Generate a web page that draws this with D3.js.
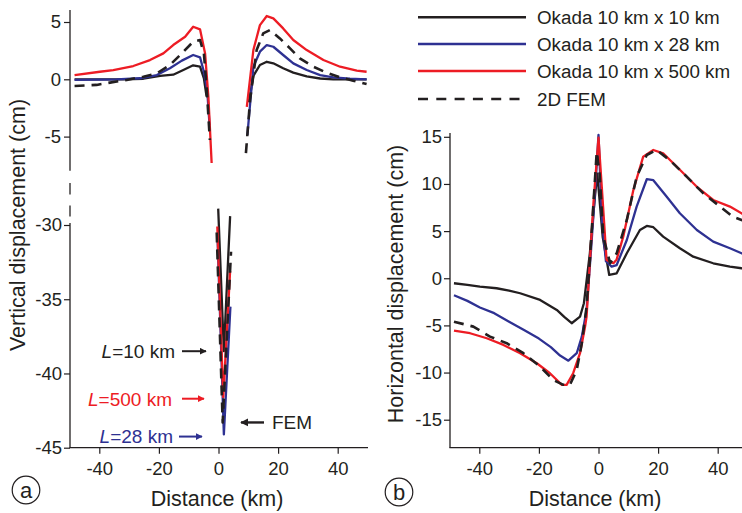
<!DOCTYPE html>
<html>
<head>
<meta charset="utf-8">
<script src="https://cdn.jsdelivr.net/npm/d3@7"></script>
<style>
  html, body { margin: 0; padding: 0; background: #fff; }
  svg { display: block; font-family: "Liberation Sans", Arial, sans-serif; }
  .tick text { fill: #231f20; }
</style>
</head>
<body>
<svg id="chart" width="742" height="513"></svg>
<script>
// ---- Data -------------------------------------------------------------
// Panel (a): vertical displacement (cm) vs distance (km); null breaks the
// curve into the western flank, the trough near the fault and the eastern flank.
const vertOkada10 = [
  [-48.3, 0.0], [-40, 0.0], [-32, 0.0], [-25.2, 0.05], [-19.6, 0.29], [-15.2, 0.4],
  [-11.8, 0.81], [-8.5, 1.22], [-6.2, 1.10], [-4.9, 0.09], [-4.0, -1.5],
  null,
  [-0.1, -28.9], [1.8, -38.5], [3.9, -29.4],
  null,
  [10.2, -2.0], [11.7, 0.3], [13.9, 1.25], [16.2, 1.53], [18.4, 1.40], [21.7, 0.96],
  [25.1, 0.58], [29.6, 0.25], [34.1, 0.07], [38.5, 0.0], [44.1, 0.0], [49.7, 0.0]
];
const vertOkada28 = [
  [-48.3, -0.05], [-40, -0.03], [-34.2, 0.0], [-26.3, 0.09], [-20.7, 0.37], [-16.3, 0.96],
  [-12.3, 1.63], [-8.5, 2.12], [-6.2, 1.92], [-4.9, 0.66], [-3.8, -0.93], [-3.0, -4.0],
  null,
  [-0.3, -31.0], [1.8, -44.1], [4.0, -35.5],
  null,
  [9.7, -4.86], [11.7, 1.10], [13.9, 2.41], [16.2, 2.99], [18.4, 2.84], [21.7, 2.12],
  [25.1, 1.39], [29.6, 0.81], [34.1, 0.37], [38.5, 0.17], [44.1, 0.05], [49.7, 0.0]
];
const vertOkada500 = [
  [-48.3, 0.37], [-39.8, 0.66], [-35.3, 0.81], [-28.6, 1.16], [-23, 1.68], [-18.5, 2.26],
  [-15.2, 2.99], [-11.2, 3.71], [-8.5, 4.59], [-6.2, 4.36], [-4.5, 2.26], [-3.4, -1.5], [-2.3, -7.3],
  null,
  [-0.4, -30.1], [1.6, -41.6], [3.9, -33.1],
  null,
  [9.5, -2.4], [11.7, 2.55], [13.9, 4.73], [16.2, 5.52], [18.4, 5.32], [21.7, 4.44],
  [25.1, 3.43], [29.6, 2.55], [35.2, 1.68], [40.8, 1.10], [46.4, 0.75], [49.7, 0.66]
];
const vertFem = [
  [-48.3, -0.58], [-40.9, -0.49], [-36.4, -0.29], [-30.8, -0.06], [-25.2, 0.23], [-20.7, 0.52],
  [-16.3, 1.25], [-12.3, 2.26], [-8.5, 3.28], [-6.2, 3.43], [-4.9, 2.26], [-4.0, -0.64], [-2.9, -5.3],
  null,
  [-0.6, -30.5], [1.4, -43.3], [4.2, -31.8],
  null,
  [9.2, -6.45], [10.6, -1.8], [12.8, 2.55], [15.0, 4.0], [17.3, 4.3], [20.6, 3.57],
  [24.0, 2.70], [27.3, 1.83], [31.8, 1.10], [36.3, 0.58], [40.8, 0.17], [45.2, -0.12], [49.7, -0.41]
];

// Panel (b): horizontal displacement (cm) vs distance (km)
const horizOkada10 = [
  [-48.5, -0.53], [-44, -0.7], [-39.8, -0.89], [-34.2, -1.06], [-30, -1.3], [-26.3, -1.59],
  [-19.6, -2.30], [-14.0, -3.36], [-11.5, -4.1], [-9.0, -4.77], [-6.2, -4.07], [-4.9, -2.65],
  [-2.9, 2.65], [-1.2, 8.65], [-0.4, 11.1], [1.4, 4.4], [3.6, 0.35], [6.1, 0.53], [9.5, 2.65],
  [13.9, 5.12], [16.2, 5.55], [18.4, 5.41], [21.7, 4.41], [27.3, 3.18], [31.8, 2.29],
  [38.5, 1.59], [44.1, 1.23], [48, 1.06], [50, 0.95]
];
const horizOkada28 = [
  [-48.5, -1.8], [-44, -2.4], [-39.8, -3.1], [-35, -3.7], [-30, -4.6], [-25, -5.5], [-20, -6.4],
  [-16, -7.3], [-12.9, -8.2], [-10.1, -8.74], [-7.3, -7.95], [-5.6, -6.19], [-4.0, -3.36],
  [-2.5, 3.0], [-1.0, 10.0], [0, 15.2], [1.2, 6.0], [2.5, 1.8], [4.4, 1.23], [6.1, 1.4],
  [9.5, 4.06], [12.8, 7.6], [16.2, 10.5], [18.4, 10.4], [22.9, 8.65], [27.3, 6.89], [33, 5.12],
  [38.5, 3.88], [44.1, 3.18], [48, 2.65], [50, 2.4]
];
const horizOkada500 = [
  [-48.5, -5.55], [-43.1, -5.83], [-37.5, -6.36], [-31.9, -7.07], [-26.3, -7.95], [-20.7, -9.01],
  [-16.3, -10.07], [-12.3, -11.3], [-10.7, -11.3], [-8.5, -10.07], [-6.2, -7.95], [-4.5, -5.13],
  [-4.0, -4.07], [-1.7, 7.95], [0, 14.9], [1.1, 9.7], [2.7, 1.94], [5.0, 1.6], [6.1, 2.0],
  [8.3, 4.41], [11.7, 9.36], [15, 12.9], [18.4, 13.6], [21.7, 13.25], [27.3, 11.5], [33, 9.7],
  [38.5, 8.3], [44.1, 7.6], [48, 6.89], [50, 6.5]
];
const horizFem = [
  [-48.5, -4.6], [-42, -5.13], [-36.4, -6.19], [-30.8, -6.89], [-25.2, -7.95], [-19.6, -9.37],
  [-15.2, -10.78], [-11.8, -11.3], [-9.6, -11.3], [-7.3, -9.72], [-5.6, -6.89], [-4.0, -3.0],
  [-2.9, 1.94], [-0.6, 13.4], [0.4, 11.0], [1.6, 4.4], [3.9, 1.6], [6.1, 2.65], [9.5, 6.18],
  [12.8, 10.77], [16.2, 13.07], [19.5, 13.6], [24, 12.5], [29.6, 10.77], [35.2, 9.0],
  [40.8, 7.6], [45.2, 6.5], [48, 6.18], [50, 5.9]
];

const seriesNames = ["Okada 10 km x 10 km", "Okada 10 km x 28 km", "Okada 10 km x 500 km", "2D FEM"];
const seriesColors = ["#231f20", "#2e3192", "#ed1c24", "#231f20"];
const seriesDashed = [false, false, false, true];

const xTicks = [-40, -20, 0, 20, 40];
const vertTicksUpper = [-5, 0, 5];
const vertTicksLower = [-45, -40, -35, -30];
const horizTicks = [-15, -10, -5, 0, 5, 10, 15];

// ---- Layout -----------------------------------------------------------
const svg = d3.select("#chart");
const ink = "#231f20";
const axisBottomY = 447.7;
const tickFont = 18.5;
const titleFont = 21.5;

const xA = d3.scaleLinear().domain([-50, 50]).range([69.5, 367.5]);
const yAUpper = d3.scaleLinear().domain([0, 5]).range([79.3, 22]);
const yALower = d3.scaleLinear().domain([-30, -45]).range([225, axisBottomY]);
const yA = v => (v > -15 ? yAUpper(v) : yALower(v));

const xB = d3.scaleLinear().domain([-50, 50]).range([449.5, 747.5]);
const yB = d3.scaleLinear().domain([-18, 15]).range([448, 136.8]);

const fmt = d => String(d);

function styleAxis(g) {
  g.select(".domain").remove();
  g.selectAll(".tick line").attr("stroke", ink).attr("stroke-width", 1.2);
  g.selectAll(".tick text").attr("font-size", tickFont).attr("fill", ink);
}

// Panel (a) axes
const gA = svg.append("g");
gA.append("g").attr("transform", `translate(0,${axisBottomY})`)
  .call(d3.axisBottom(xA).tickValues(xTicks).tickFormat(fmt).tickSize(6).tickPadding(8))
  .call(styleAxis);
gA.append("g").attr("transform", `translate(${xA(-50) + 0.5},0)`)
  .call(d3.axisLeft(yAUpper).tickValues(vertTicksUpper).tickFormat(fmt).tickSize(6).tickPadding(3))
  .call(styleAxis);
gA.append("g").attr("transform", `translate(${xA(-50) + 0.5},0)`)
  .call(d3.axisLeft(yALower).tickValues(vertTicksLower).tickFormat(fmt).tickSize(6).tickPadding(2))
  .call(styleAxis);

const axisX0 = xA(-50) + 0.5;
const axisLine = (g, x1, y1, x2, y2) => g.append("line")
  .attr("x1", x1).attr("y1", y1).attr("x2", x2).attr("y2", y2)
  .attr("stroke", ink).attr("stroke-width", 1.3);
axisLine(gA, axisX0, 10, axisX0, 170.7);
axisLine(gA, axisX0, 183, axisX0, 194.5);
axisLine(gA, axisX0, 205.5, axisX0, 216.5);
axisLine(gA, axisX0, 223, axisX0, axisBottomY);
axisLine(gA, axisX0 - 0.6, axisBottomY, xA(50) + 0.5, axisBottomY);

// Panel (b) axes
const gB = svg.append("g");
const axisXB = xB(-50) + 0.5;
gB.append("g").attr("transform", `translate(0,${axisBottomY})`)
  .call(d3.axisBottom(xB).tickValues(xTicks).tickFormat(fmt).tickSize(6).tickPadding(8))
  .call(styleAxis);
gB.append("g").attr("transform", `translate(${axisXB},0)`)
  .call(d3.axisLeft(yB).tickValues(horizTicks).tickFormat(fmt).tickSize(6).tickPadding(2))
  .call(styleAxis);
axisLine(gB, axisXB, 133, axisXB, axisBottomY);
axisLine(gB, axisXB - 0.6, axisBottomY, 742, axisBottomY);

// ---- Curves -----------------------------------------------------------
const defs = svg.append("defs");
defs.append("clipPath").attr("id", "clipA")
  .append("rect").attr("x", axisX0 + 1).attr("y", 0).attr("width", 300).attr("height", axisBottomY - 1);
defs.append("clipPath").attr("id", "clipB")
  .append("rect").attr("x", axisXB + 1).attr("y", 0).attr("width", 300).attr("height", axisBottomY - 1);

const lineA = d3.line().defined(d => d !== null).x(d => xA(d[0])).y(d => yA(d[1]));
const lineB = d3.line().defined(d => d !== null).x(d => xB(d[0])).y(d => yB(d[1]));

function drawSeries(g, gen, data, i) {
  g.append("path")
    .attr("d", gen(data))
    .attr("fill", "none")
    .attr("stroke", seriesColors[i])
    .attr("stroke-width", seriesDashed[i] ? 2.6 : 2.3)
    .attr("stroke-linejoin", "round")
    .attr("stroke-dasharray", seriesDashed[i] ? "10,7" : null);
}

const curvesA = svg.append("g").attr("clip-path", "url(#clipA)");
[vertOkada10, vertOkada28, vertOkada500, vertFem].forEach((d, i) => drawSeries(curvesA, lineA, d, i));
const curvesB = svg.append("g").attr("clip-path", "url(#clipB)");
[horizOkada10, horizOkada28, horizOkada500, horizFem].forEach((d, i) => drawSeries(curvesB, lineB, d, i));

// ---- Axis titles ------------------------------------------------------
svg.append("text").attr("x", 217).attr("y", 506).attr("text-anchor", "middle")
  .attr("font-size", titleFont).attr("fill", ink).text("Distance (km)");
svg.append("text").attr("x", 595).attr("y", 506).attr("text-anchor", "middle")
  .attr("font-size", titleFont).attr("fill", ink).text("Distance (km)");
svg.append("text").attr("transform", "translate(24.5,225) rotate(-90)").attr("text-anchor", "middle")
  .attr("font-size", titleFont).attr("fill", ink).text("Vertical displacement (cm)");
svg.append("text").attr("transform", "translate(402.5,284) rotate(-90)").attr("text-anchor", "middle")
  .attr("font-size", titleFont).attr("fill", ink).text("Horizontal displacement (cm)");

// Panel letters
[["a", 26, 490], ["b", 399, 492]].forEach(([t, cx, cy]) => {
  svg.append("circle").attr("cx", cx).attr("cy", cy).attr("r", 13.8)
    .attr("fill", "none").attr("stroke", ink).attr("stroke-width", 1.2);
  svg.append("text").attr("x", cx).attr("y", cy + 7.5).attr("text-anchor", "middle")
    .attr("font-size", 22).attr("fill", ink).text(t);
});

// ---- Legend -----------------------------------------------------------
const legend = svg.append("g");
const legendRows = [17.3, 44, 71, 99];
seriesNames.forEach((name, i) => {
  legend.append("line")
    .attr("x1", 418).attr("x2", 526).attr("y1", legendRows[i]).attr("y2", legendRows[i])
    .attr("stroke", seriesColors[i]).attr("stroke-width", 2.6)
    .attr("stroke-dasharray", seriesDashed[i] ? "10,8.3" : null);
  legend.append("text").attr("x", 537).attr("y", legendRows[i] + 6.7)
    .attr("font-size", 18.8).attr("fill", ink).text(name);
});

// ---- Trough annotations (panel a) --------------------------------------
const arrowDefs = (id, color) => defs.append("marker")
  .attr("id", id).attr("viewBox", "0 0 10 10").attr("refX", 9).attr("refY", 5)
  .attr("markerWidth", 3.4).attr("markerHeight", 3.4).attr("orient", "auto")
  .append("path").attr("d", "M0,0 L10,5 L0,10 Z").attr("fill", color);
arrowDefs("arrBlack", ink);
arrowDefs("arrRed", "#ed1c24");
arrowDefs("arrBlue", "#2e3192");

const noteFont = 19;
function label(textX, y, value, color, arrowFrom, arrowTo, marker) {
  const t = svg.append("text").attr("x", textX).attr("y", y + 6.8).attr("text-anchor", "end")
    .attr("font-size", noteFont).attr("fill", color);
  t.append("tspan").attr("font-style", "italic").text("L");
  t.append("tspan").text("=" + value + " km");
  svg.append("line").attr("x1", arrowFrom).attr("x2", arrowTo).attr("y1", y).attr("y2", y)
    .attr("stroke", color).attr("stroke-width", 2).attr("marker-end", `url(#${marker})`);
}
label(175, yALower(-38.5), 10, ink, 182, 206, "arrBlack");
label(172, yALower(-41.7), 500, "#ed1c24", 182, 204, "arrRed");
label(173, yALower(-44.25), 28, "#2e3192", 179, 202, "arrBlue");

svg.append("line").attr("x1", 264).attr("x2", 241).attr("y1", yALower(-43.3)).attr("y2", yALower(-43.3))
  .attr("stroke", ink).attr("stroke-width", 2.4).attr("marker-end", "url(#arrBlack)");
svg.append("text").attr("x", 272).attr("y", yALower(-43.3) + 6.8)
  .attr("font-size", noteFont).attr("fill", ink).text("FEM");
</script>
</body>
</html>
